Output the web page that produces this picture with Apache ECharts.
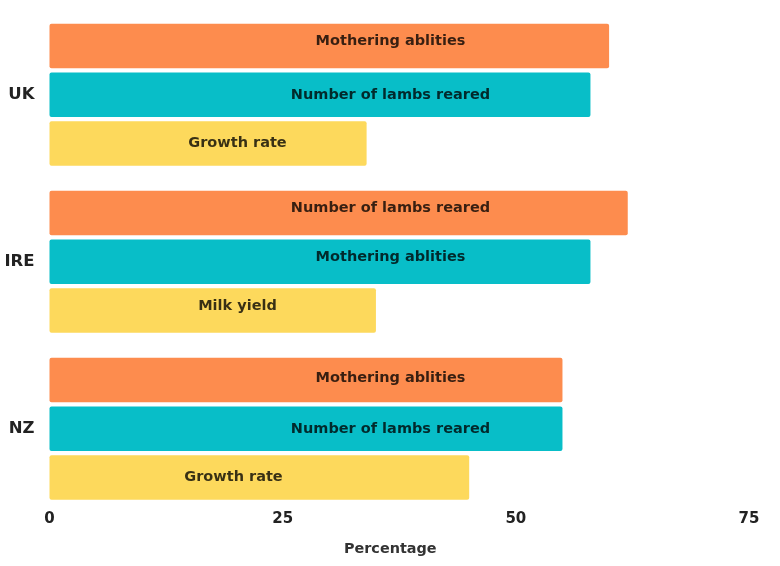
<!DOCTYPE html>
<html>
<head>
<meta charset="utf-8">
<script src="https://cdn.jsdelivr.net/npm/echarts@6/dist/echarts.min.js"></script>
<style>html,body{margin:0;padding:0;background:#fff}#c{width:780px;height:566px}</style>
</head>
<body>
<div id="c"></div>
<script>
var categories = ['UK', 'IRE', 'NZ'];
var rank1Values = [60, 62, 55];
var rank2Values = [58, 58, 55];
var rank3Values = [34, 35, 45];
var rank1Labels = ['Mothering ablities', 'Number of lambs reared', 'Mothering ablities'];
var rank2Labels = ['Number of lambs reared', 'Mothering ablities', 'Number of lambs reared'];
var rank3Labels = ['Growth rate', 'Milk yield', 'Growth rate'];
var xTicks = [0, 25, 50, 75];

// styling (not data)
var FONT = 'DejaVu Sans, Verdana, sans-serif';
var colors = ['#FD8C4E', '#08BEC8', '#FDD95C'];
var labelX = [341, 341, 188];
var labelNudge = [
  [[0, -5], [0, -4.5], [0, -2]],
  [[0, 0], [0, -4.5], [0, 0]],
  [[0, 0], [0, -4.5], [-4, 0]]
];

function mkSeries(name, values, labels, idx) {
  return {
    name: name,
    type: 'bar',
    barWidth: 44.5,
    barGap: '9.5%',
    itemStyle: { color: colors[idx], borderRadius: 2 },
    label: {
      show: true,
      position: [labelX[idx], '50%'],
      align: 'center',
      verticalAlign: 'middle',
      fontFamily: FONT,
      fontWeight: 'bold',
      fontSize: 14.5,
      color: 'rgba(0,0,0,0.78)',
      formatter: function (p) { return labels[p.dataIndex]; }
    },
    data: values.map(function (v, i) {
      return { value: v, label: { offset: labelNudge[idx][i] } };
    })
  };
}

var chart = echarts.init(document.getElementById('c'), null, { renderer: 'canvas' });
chart.setOption({
  animation: false,
  backgroundColor: '#fff',
  grid: { left: 49.5, right: 31, top: 11.3, bottom: 53.7, containLabel: false },
  xAxis: {
    type: 'value',
    min: xTicks[0],
    max: xTicks[xTicks.length - 1],
    interval: xTicks[1] - xTicks[0],
    axisLine: { show: false },
    axisTick: { show: false },
    splitLine: { show: false },
    axisLabel: {
      margin: -1,
      fontFamily: FONT,
      fontWeight: 'bold',
      fontSize: 15,
      color: '#222'
    },
    name: 'Percentage',
    nameLocation: 'middle',
    nameGap: 30,
    nameTextStyle: {
      fontFamily: FONT,
      fontWeight: 'bold',
      fontSize: 14.4,
      color: '#333',
      padding: [0, 18, 0, 0]
    }
  },
  yAxis: {
    type: 'category',
    data: categories,
    inverse: true,
    axisLine: { show: false },
    axisTick: { show: false },
    splitLine: { show: false },
    axisLabel: {
      margin: 15,
      fontFamily: FONT,
      fontWeight: 'bold',
      fontSize: 16.5,
      color: '#222'
    }
  },
  series: [
    mkSeries('Rank 1', rank1Values, rank1Labels, 0),
    mkSeries('Rank 2', rank2Values, rank2Labels, 1),
    mkSeries('Rank 3', rank3Values, rank3Labels, 2)
  ]
});
</script>
</body>
</html>
